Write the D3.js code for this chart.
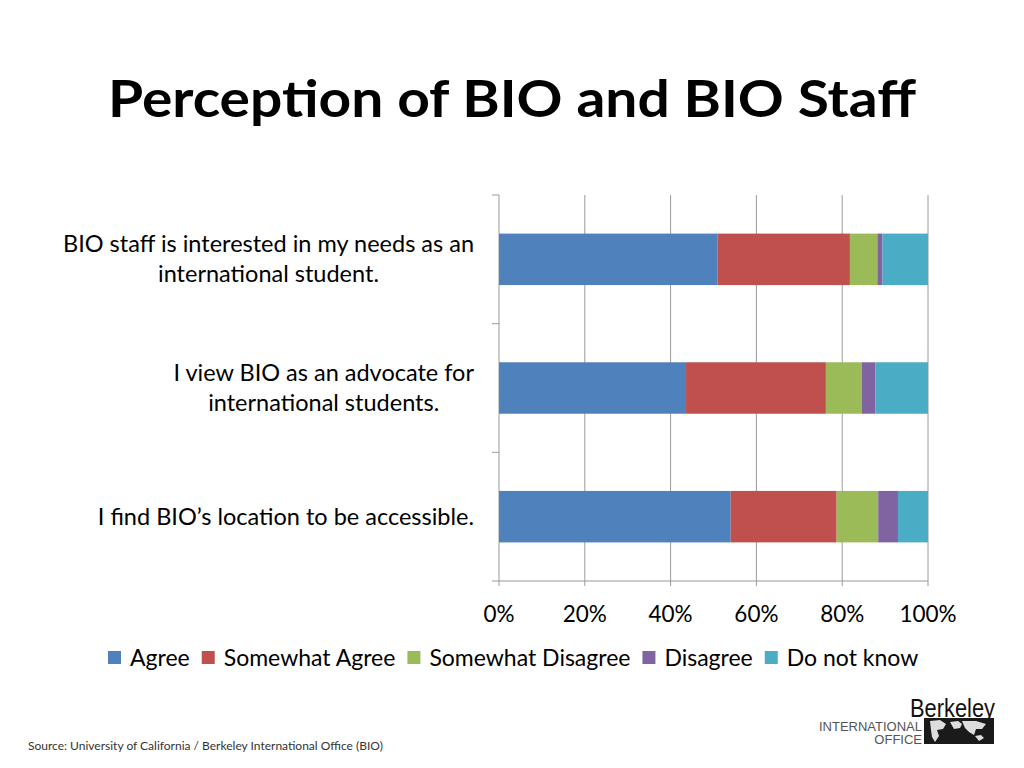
<!DOCTYPE html>
<html>
<head>
<meta charset="utf-8">
<script src="https://cdn.jsdelivr.net/npm/d3@7"></script>
<style>
  body { margin: 0; background: #fff; }
  svg { display: block; font-family: Lato, "Open Sans", sans-serif; }
</style>
</head>
<body>
<svg id="chart" width="1024" height="768"></svg>
<script>
// survey statements (top to bottom)
var questions = [
  ["BIO staff is interested in my needs as an", "international student."],
  ["I view BIO as an advocate for", "international students."],
  ["I find BIO\u2019s location to be accessible."]
];
var answers = ["Agree", "Somewhat Agree", "Somewhat Disagree", "Disagree", "Do not know"];
var colors = ["#4F81BD", "#C0504D", "#9BBB59", "#8064A2", "#4BACC6"];

// percent of respondents per answer, one array per statement
var staffInterested = [50.9, 30.9, 6.4, 1.2, 10.6];
var advocate = [43.6, 32.6, 8.4, 3.1, 12.3];
var accessible = [54.0, 24.7, 9.7, 4.6, 7.0];
var tickValues = [0, 20, 40, 60, 80, 100];

var rows = [staffInterested, advocate, accessible];

var svg = d3.select("#chart");

// title
svg.append("text")
    .attr("x", 108)
    .attr("y", 117)
    .attr("font-size", "52px")
    .attr("font-weight", "bold")
    .attr("textLength", 808)
    .attr("lengthAdjust", "spacingAndGlyphs")
    .attr("fill", "#000")
    .text("Perception of BIO and BIO Staff");

// scales
var x = d3.scaleLinear().domain([0, 100]).range([499, 928]);
var y = d3.scaleBand().domain(d3.range(questions.length)).range([195, 581]).paddingInner(0.6).paddingOuter(0.3);

var g = svg.append("g");

// vertical gridlines
g.selectAll(".grid").data(tickValues.slice(1)).enter().append("line")
    .attr("x1", d => x(d))
    .attr("x2", d => x(d))
    .attr("y1", 195)
    .attr("y2", 586)
    .attr("stroke", "#9a9a9a")
    .attr("stroke-width", 1);

// left axis with category ticks
g.append("line")
    .attr("x1", x(0)).attr("x2", x(0))
    .attr("y1", 195).attr("y2", 586)
    .attr("stroke", "#9a9a9a");
var catTicks = [195, 195 + 386 / 3, 195 + 2 * 386 / 3];
g.selectAll(".ctick").data(catTicks).enter().append("line")
    .attr("x1", 492).attr("x2", x(0))
    .attr("y1", d => d).attr("y2", d => d)
    .attr("stroke", "#9a9a9a");

// bottom axis
g.append("line")
    .attr("x1", 492).attr("x2", x(100))
    .attr("y1", 581).attr("y2", 581)
    .attr("stroke", "#9a9a9a");

g.selectAll(".xlab").data(tickValues).enter().append("text")
    .attr("x", d => x(d))
    .attr("y", 622)
    .attr("text-anchor", "middle")
    .attr("font-size", "22.5px")
    .attr("fill", "#000")
    .text(d => d + "%");

// stacked bars
rows.forEach(function(vals, i) {
    var start = 0;
    vals.forEach(function(v, j) {
        g.append("rect")
            .attr("x", x(start))
            .attr("y", y(i))
            .attr("width", x(start + v) - x(start))
            .attr("height", y.bandwidth())
            .attr("fill", colors[j]);
        start += v;
    });
});

// category labels, centered lines, right aligned block
questions.forEach(function(lines, i) {
    var cy = y(i) + y.bandwidth() / 2;
    var t = svg.append("text")
        .attr("font-size", "23.5px")
        .attr("fill", "#000")
        .attr("text-anchor", "middle");
    var spans = lines.map(function(l, k) {
        return t.append("tspan").text(l)
            .attr("y", cy + 8 + (k - (lines.length - 1) / 2) * 30);
    });
    var w = d3.max(spans, s => s.node().getComputedTextLength());
    spans.forEach(s => s.attr("x", 474 - w / 2));
});

// legend
var legend = svg.append("g");
var lx = 108;
answers.forEach(function(a, j) {
    legend.append("rect")
        .attr("x", lx).attr("y", 651)
        .attr("width", 13).attr("height", 13)
        .attr("fill", colors[j]);
    var t = legend.append("text")
        .attr("x", lx + 22).attr("y", 666)
        .attr("font-size", "23px")
        .attr("fill", "#000")
        .text(a);
    lx += 22 + t.node().getComputedTextLength() + 12;
});

// source
svg.append("text")
    .attr("x", 28).attr("y", 750)
    .attr("font-size", "12px")
    .attr("fill", "#333")
    .text("Source:  University of California / Berkeley International Office (BIO)");

// logo
var logo = svg.append("g");
logo.append("text")
    .attr("x", 910).attr("y", 717)
    .attr("font-size", "26px")
    .attr("font-family", "'Liberation Sans', sans-serif")
    .attr("textLength", 85)
    .attr("lengthAdjust", "spacingAndGlyphs")
    .attr("fill", "#111")
    .text("Berkeley");
logo.append("text")
    .attr("x", 922).attr("y", 731)
    .attr("text-anchor", "end")
    .attr("font-size", "13px")
    .attr("font-family", "'Liberation Sans Narrow', 'Liberation Sans', sans-serif")
    .attr("fill", "#555")
    .text("INTERNATIONAL");
logo.append("text")
    .attr("x", 922).attr("y", 744)
    .attr("text-anchor", "end")
    .attr("font-size", "13px")
    .attr("font-family", "'Liberation Sans Narrow', 'Liberation Sans', sans-serif")
    .attr("fill", "#555")
    .text("OFFICE");
logo.append("rect")
    .attr("x", 924).attr("y", 718)
    .attr("width", 70).attr("height", 26)
    .attr("fill", "#1a1a1a");
logo.append("path")
    .attr("d", "M930,721 l10,-1 l6,4 l-3,5 l-6,1 l2,6 l-4,6 l-3,-5 l-1,-7 z M950,722 l8,-1 l4,3 l-2,4 l-6,1 z M962,721 l14,0 l10,3 l-4,5 l-6,0 l-2,6 l-5,-3 l-4,-4 z M975,736 l6,-1 l3,3 l-5,3 z")
    .attr("fill", "#ddd");
</script>
</body>
</html>
